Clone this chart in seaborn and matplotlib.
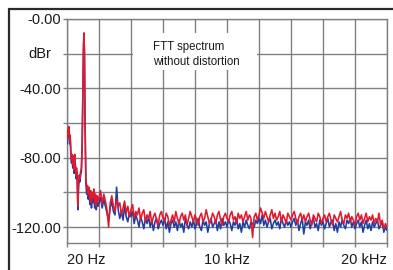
import matplotlib
matplotlib.use("Agg")
import matplotlib.pyplot as plt
import matplotlib.patches as mpatches
import seaborn as sns
import pandas as pd

# ---------------- data ----------------
freq_low_hz = [20, 50, 80, 110, 140, 170, 200, 240, 280, 320, 360, 400, 440, 480, 520,
               560, 600, 640, 680, 720, 760, 800, 850, 900, 950, 990, 1030, 1060, 1090,
               1130, 1180, 1230, 1280, 1330, 1380, 1430, 1480, 1530, 1580, 1630, 1680,
               1730, 1780, 1830, 1880, 1930, 1970]
red_low_dbr = [-70, -64, -66, -62, -65, -70, -67, -76, -81, -78, -84, -79, -87, -78, -83,
               -90, -86, -92, -108, -95, -90, -92, -88, -86, -70, -40, -15, -8, -18,
               -60, -92, -98, -96, -101, -97, -104, -99, -106, -100, -103, -98,
               -106, -101, -108, -102, -105, -103]
blue_low_dbr = [-72, -66, -68, -64, -67, -72, -69, -78, -83, -80, -86, -81, -89, -80, -85,
                -92, -88, -94, -110, -97, -92, -94, -90, -88, -72, -42, -17, -10, -20,
                -62, -95, -101, -99, -104, -100, -107, -102, -109, -103, -106, -101,
                -109, -104, -110, -105, -108, -106]

freq_floor_hz = [
    2000, 2100, 2200, 2300, 2400, 2500, 2600, 2700, 2800, 2900,
    3000, 3100, 3200, 3300, 3400, 3500, 3600, 3700, 3800, 3900,
    4000, 4100, 4200, 4300, 4400, 4500, 4600, 4700, 4800, 4900,
    5000, 5100, 5200, 5300, 5400, 5500, 5600, 5700, 5800, 5900,
    6000, 6100, 6200, 6300, 6400, 6500, 6600, 6700, 6800, 6900,
    7000, 7100, 7200, 7300, 7400, 7500, 7600, 7700, 7800, 7900,
    8000, 8100, 8200, 8300, 8400, 8500, 8600, 8700, 8800, 8900,
    9000, 9100, 9200, 9300, 9400, 9500, 9600, 9700, 9800, 9900,
    10000, 10100, 10200, 10300, 10400, 10500, 10600, 10700, 10800, 10900,
    11000, 11100, 11200, 11300, 11400, 11500, 11600, 11700, 11800, 11900,
    12000, 12100, 12200, 12300, 12400, 12500, 12600, 12700, 12800, 12900,
    13000, 13100, 13200, 13300, 13400, 13500, 13600, 13700, 13800, 13900,
    14000, 14100, 14200, 14300, 14400, 14500, 14600, 14700, 14800, 14900,
    15000, 15100, 15200, 15300, 15400, 15500, 15600, 15700, 15800, 15900,
    16000, 16100, 16200, 16300, 16400, 16500, 16600, 16700, 16800, 16900,
    17000, 17100, 17200, 17300, 17400, 17500, 17600, 17700, 17800, 17900,
    18000, 18100, 18200, 18300, 18400, 18500, 18600, 18700, 18800, 18900,
    19000, 19100, 19200, 19300, 19400, 19500, 19600, 19700, 19800, 19900,
    20000]
red_floor_dbr = [
    -103, -99, -107, -101, -105, -110, -120, -106, -102, -108,
    -111, -104, -108, -106, -113, -109, -105, -112, -108, -114,
    -110, -107, -115, -111, -113, -109, -116, -112, -110, -117,
    -113, -115, -111, -118, -114, -112, -116, -119, -113, -111,
    -115, -117, -112, -114, -119, -116, -113, -117, -111, -115,
    -118, -114, -112, -116, -113, -119, -115, -111, -114, -117,
    -113, -116, -119, -114, -112, -117, -115, -110, -114, -118,
    -116, -112, -114, -118, -113, -111, -116, -119, -114, -112,
    -115, -117, -113, -111, -116, -114, -118, -112, -115, -113,
    -117, -114, -111, -116, -113, -115, -126, -114, -112, -116,
    -113, -109, -112, -115, -111, -114, -117, -113, -110, -115,
    -112, -116, -114, -111, -117, -113, -115, -118, -112, -114,
    -116, -113, -111, -115, -118, -114, -112, -116, -113, -117,
    -114, -112, -116, -119, -113, -115, -117, -112, -114, -118,
    -115, -113, -117, -114, -112, -116, -119, -113, -115, -117,
    -114, -111, -116, -118, -113, -115, -112, -117, -114, -116,
    -119, -114, -112, -116, -113, -118, -115, -112, -117, -114,
    -116, -113, -118, -115, -117, -112, -119, -116, -121, -118,
    -120]
blue_floor_dbr = [
    -106, -103, -109, -104, -108, -112, -116, -109, -105, -111,
    -113, -97, -110, -115, -111, -116, -108, -114, -117, -112,
    -114, -111, -118, -113, -116, -120, -114, -117, -121, -115,
    -118, -114, -120, -116, -122, -117, -115, -121, -118, -116,
    -119, -115, -121, -117, -123, -118, -116, -120, -117, -122,
    -116, -120, -118, -123, -115, -119, -121, -117, -120, -116,
    -121, -118, -115, -120, -122, -116, -119, -117, -123, -118,
    -115, -120, -118, -116, -122, -117, -121, -115, -119, -117,
    -120, -116, -118, -122, -117, -119, -115, -121, -118, -123,
    -117, -120, -116, -119, -121, -117, -118, -120, -116, -118,
    -115, -118, -113, -119, -116, -120, -117, -115, -121, -118,
    -116, -119, -117, -121, -115, -118, -120, -116, -119, -117,
    -120, -117, -115, -119, -116, -122, -118, -115, -124, -117,
    -119, -116, -121, -117, -115, -120, -118, -122, -116, -119,
    -117, -121, -118, -115, -120, -117, -116, -122, -118, -123,
    -117, -120, -116, -119, -121, -116, -118, -115, -120, -117,
    -121, -118, -116, -120, -117, -123, -119, -116, -121, -118,
    -122, -117, -120, -118, -116, -121, -119, -117, -123, -120,
    -122]

y_ticks = [0, -20, -40, -60, -80, -100, -120]
y_tick_labels = ["-0.00", "", "-40.00", "", "-80.00", "", "-120.00"]
x_ticks = [0, 2000, 4000, 6000, 8000, 10000, 12000, 14000, 16000, 18000, 20000]
x_tick_labels = ["20 Hz", "", "", "", "", "10 kHz", "", "", "", "", "20 kHz"]
title_text = "FTT spectrum\nwithout distortion"
unit_text = "dBr"

# ---------------- build table ----------------
assert len(freq_floor_hz) == len(red_floor_dbr) == len(blue_floor_dbr)
assert len(freq_low_hz) == len(red_low_dbr) == len(blue_low_dbr)
freqs = freq_low_hz + freq_floor_hz
df = pd.concat([
    pd.DataFrame({"freq": freqs, "dbr": blue_low_dbr + blue_floor_dbr, "ch": "blue"}),
    pd.DataFrame({"freq": freqs, "dbr": red_low_dbr + red_floor_dbr, "ch": "red"}),
], ignore_index=True)

# ---------------- plot ----------------
sns.set_style("white")
plt.rcParams["font.family"] = ["Liberation Sans", "DejaVu Sans"]

fig = plt.figure(figsize=(3.93, 2.70), dpi=100)
W, H = 393, 270
ax = fig.add_axes([67 / W, 1 - 243 / H, (387 - 67) / W, (243 - 19) / H])

sns.lineplot(data=df, x="freq", y="dbr", hue="ch", hue_order=["blue", "red"],
             palette={"blue": "#1d3f9e", "red": "#e2182f"}, linewidth=1.15,
             legend=False, ax=ax, estimator=None, sort=True, zorder=3)

ax.set_xlim(0, 20000)
ax.set_ylim(-129.2, 0)
ax.set_xlabel("")
ax.set_ylabel("")

ax.set_yticks(y_ticks)
ax.set_yticklabels(y_tick_labels)
ax.set_xticks(x_ticks)
ax.set_xticklabels(x_tick_labels)
xl = ax.get_xticklabels()
xl[0].set_ha("left")
xl[-1].set_ha("right")

ax.grid(True, color="#808080", linewidth=1.0, zorder=0)
ax.set_axisbelow(True)
for s in ax.spines.values():
    s.set_color("#808080")
    s.set_linewidth(1.0)

ax.tick_params(axis="y", length=3, width=1, color="#808080", labelsize=10.5,
               labelcolor="#1a1a1a", pad=1, left=True)
ax.tick_params(axis="x", length=3, width=1, color="#808080", labelsize=10.5,
               labelcolor="#1a1a1a", pad=4, bottom=True)

# white box covering grid behind the annotation
ax.add_patch(mpatches.Rectangle((4125, -29.4), 11875 - 4125, 21.4,
                                facecolor="white", edgecolor="none", zorder=1))
ax.text(5350, -20.5, title_text, fontsize=8.3, color="#1a1a1a",
        ha="left", va="center", linespacing=1.3, zorder=2)

fig.text(40 / W, 1 - 54 / H, unit_text, fontsize=10.5, color="#1a1a1a",
         ha="center", va="center")

# outer frame (left and top edges visible)
fig.add_artist(plt.Line2D([8.5 / W, 8.5 / W], [0, 1 - 9 / H], transform=fig.transFigure,
                          color="#2a2a2a", linewidth=1.6))
fig.add_artist(plt.Line2D([8.5 / W, 1], [1 - 9 / H, 1 - 9 / H], transform=fig.transFigure,
                          color="#2a2a2a", linewidth=1.6))

fig.savefig("out.png", dpi=100)
